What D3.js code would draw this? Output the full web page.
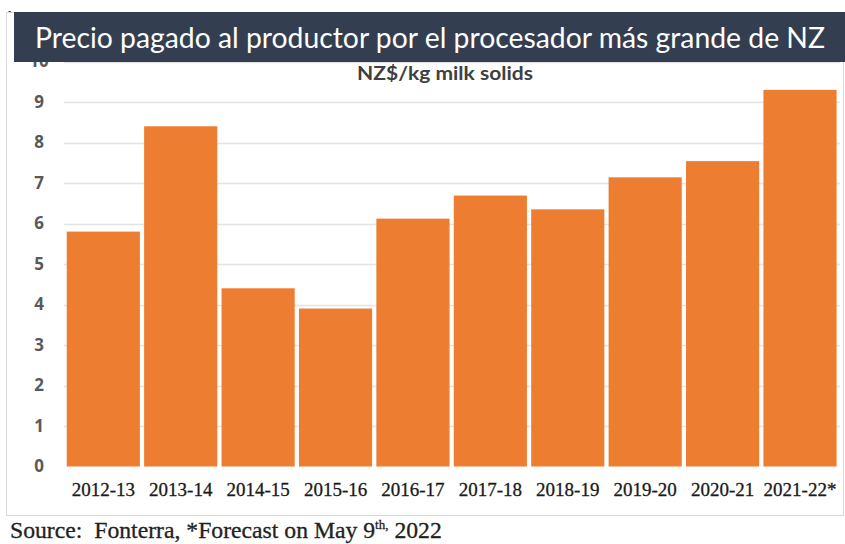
<!DOCTYPE html>
<html>
<head>
<meta charset="utf-8">
<script src="https://cdn.jsdelivr.net/npm/d3@7"></script>
<style>
  body { margin: 0; background: #fff; }
  svg { display: block; }
</style>
</head>
<body>
<script>
var width = 845,
    height = 544;

var seasons = ["2012-13", "2013-14", "2014-15", "2015-16", "2016-17",
               "2017-18", "2018-19", "2019-20", "2020-21", "2021-22*"];
var prices = [5.80, 8.40, 4.40, 3.90, 6.12, 6.69, 6.35, 7.14, 7.54, 9.30];
var yTicks = [0, 1, 2, 3, 4, 5, 6, 7, 8, 9, 10];

var svg = d3.select("body").append("svg")
    .attr("width", width)
    .attr("height", height);

var x = d3.scaleBand()
    .domain(seasons)
    .range([64.4, 838.9])
    .paddingInner(0.055)
    .paddingOuter(0.03);

var y = d3.scaleLinear()
    .domain([0, 10])
    .range([466.5, 61.5]);

// chart frame
svg.append("rect")
    .attr("x", 6.5).attr("y", 12.5)
    .attr("width", 837).attr("height", 503)
    .attr("fill", "none")
    .attr("stroke", "#d9d9d9");

// gridlines
svg.append("g")
  .selectAll("line")
  .data(yTicks.filter(function(d) { return d > 0; }))
  .enter().append("line")
    .attr("x1", 64).attr("x2", 840)
    .attr("y1", function(d) { return Math.round(y(d)) + 0.5; })
    .attr("y2", function(d) { return Math.round(y(d)) + 0.5; })
    .attr("stroke", "#e3e3e3")
    .attr("stroke-width", 1.5);

// bars
svg.append("g")
  .selectAll("rect")
  .data(prices)
  .enter().append("rect")
    .attr("x", function(d, i) { return x(seasons[i]); })
    .attr("y", function(d) { return y(d); })
    .attr("width", x.bandwidth())
    .attr("height", function(d) { return y(0) - y(d); })
    .attr("fill", "#ed7d31");

// y axis labels (the "10" sits partly under the title banner, as in the original)
var yAxis = d3.axisLeft(y).tickValues(yTicks).tickSize(0).tickPadding(0)
    .tickFormat(d3.format("d"));
svg.append("g")
    .attr("transform", "translate(39,0)")
    .call(yAxis)
    .call(function(g) { g.select(".domain").remove(); })
    .selectAll("text")
    .attr("text-anchor", "middle")
    .attr("font-family", "'Open Sans', sans-serif")
    .attr("font-weight", "bold")
    .attr("font-size", 17)
    .attr("fill", "#595959");

// x axis labels
var xAxis = d3.axisBottom(x).tickSize(0).tickPadding(0);
svg.append("g")
    .attr("transform", "translate(0,482)")
    .call(xAxis)
    .call(function(g) { g.select(".domain").remove(); })
    .selectAll("text")
    .attr("font-family", "'Liberation Serif', serif")
    .attr("font-size", 19)
    .attr("fill", "#1a1a1a")
    .attr("stroke", "#1a1a1a")
    .attr("stroke-width", 0.3);

// subtitle
svg.append("text")
    .attr("x", 445).attr("y", 80)
    .attr("text-anchor", "middle")
    .attr("font-family", "Lato, sans-serif")
    .attr("font-size", 19)
    .attr("font-weight", "bold")
    .attr("textLength", 176)
    .attr("lengthAdjust", "spacingAndGlyphs")
    .attr("fill", "#404040")
    .text("NZ$/kg milk solids");

// title banner
svg.append("rect")
    .attr("x", 14).attr("y", 12)
    .attr("width", 831).attr("height", 50)
    .attr("fill", "#333f50");

svg.append("text")
    .attr("x", 35).attr("y", 48)
    .attr("font-family", "Lato, sans-serif")
    .attr("font-size", 29)
    .attr("textLength", 790)
    .attr("lengthAdjust", "spacingAndGlyphs")
    .attr("fill", "#ffffff")
    .text("Precio pagado al productor por el procesador más grande de NZ");

svg.append("text")
    .attr("x", 8).attr("y", 14)
    .attr("font-family", "sans-serif")
    .attr("font-size", 10)
    .attr("fill", "#333")
    .text("-");

// source note
var src = svg.append("text")
    .attr("x", 10).attr("y", 538)
    .attr("font-family", "'Liberation Serif', serif")
    .attr("font-size", 23.7)
    .attr("fill", "#222")
    .attr("stroke", "#222")
    .attr("stroke-width", 0.3);
src.append("tspan").text("Source:\u00a0\u00a0Fonterra, *Forecast on May 9");
src.append("tspan").attr("dy", -9).attr("font-size", 13).text("th,");
src.append("tspan").attr("dy", 9).text(" 2022");
</script>
</body>
</html>
